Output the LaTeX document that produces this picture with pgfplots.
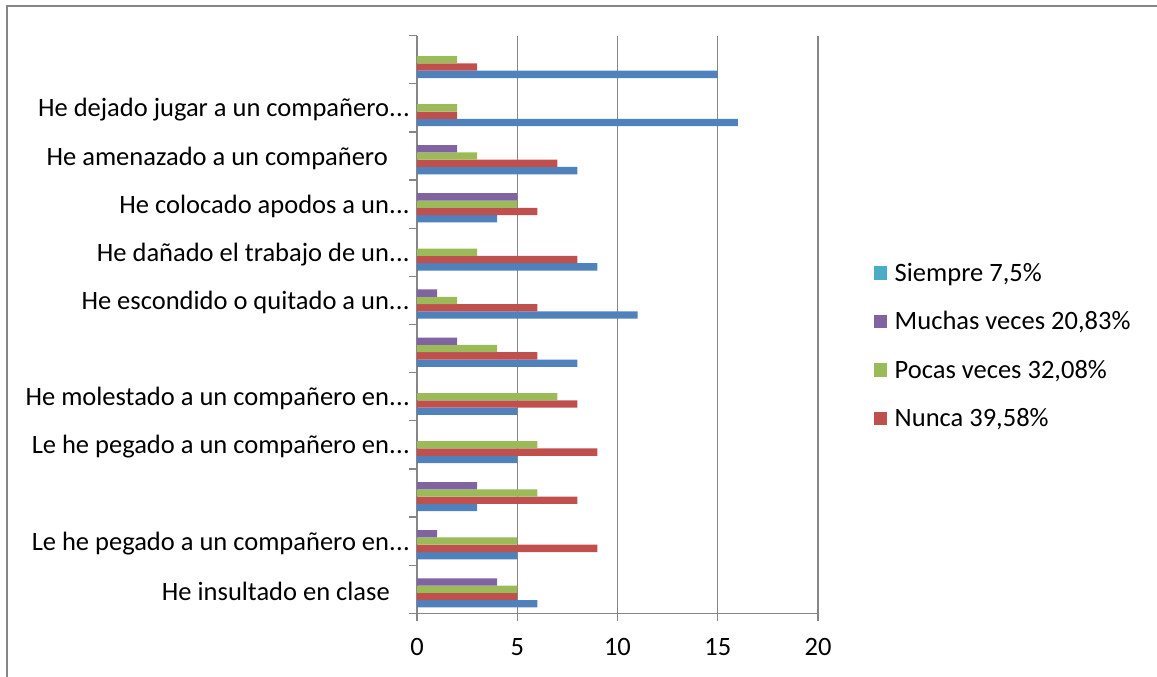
\documentclass[border=0pt]{standalone}
\usepackage{fontspec}
\setmainfont{Carlito}
\usepackage{pgfplots}
\pgfplotsset{compat=1.18}
\definecolor{cBlue}{HTML}{4F81BD}
\definecolor{cRed}{HTML}{C0504D}
\definecolor{cGreen}{HTML}{9BBB59}
\definecolor{cPurple}{HTML}{8064A2}
\definecolor{cCyan}{HTML}{4BACC6}
\definecolor{cGrid}{HTML}{868686}
\newcommand{\dd}{.\kern0.3pt.\kern0.3pt.}
\newcommand{\fs}{\fontsize{26.5}{31}\selectfont}
\begin{document}
\fs
\begin{tikzpicture}
\useasboundingbox (-417pt,-63.7pt) rectangle (740pt,613.3pt);
\draw[cGrid, line width=2pt] (-410pt,-63.7pt) -- (-410pt,607.3pt) -- (740pt,607.3pt);
\begin{axis}[
  at={(0pt,0pt)}, anchor=south west,
  scale only axis, width=401pt, height=577.6pt,
  xmin=0, xmax=20, ymin=-0.5, ymax=11.5,
  xbar, bar width=7.3pt,
  axis x line*=bottom, axis y line*=left,
  axis line style={cGrid, line width=1.3pt},
  xmajorgrids, grid style={cGrid, line width=1.3pt},
  tick align=outside, major tick length=8pt,
  tick style={cGrid, line width=1.3pt},
  xtick={0,5,10,15,20},
  ytick={-0.5,0.5,1.5,2.5,3.5,4.5,5.5,6.5,7.5,8.5,9.5,10.5,11.5},
  y tick label as interval,
  yticklabels={{He insultado en clase\hspace*{20pt}}, {Le he pegado a un compañero en\dd}, {}, {Le he pegado a un compañero en\dd}, {He molestado a un compañero en\dd}, {}, {He escondido o quitado a un\dd}, {He dañado el trabajo de un\dd}, {He colocado apodos a un\dd}, {He amenazado a un compañero\hspace*{22pt}}, {He dejado jugar a un compañero\dd}, {}},
  /pgf/number format/assume math mode=true,
  xticklabel style={font=\fs, yshift=-8pt},
  yticklabel style={font=\fs, inner sep=0pt, xshift=1pt, yshift=-2pt},
  legend image code/.code={\fill[#1] (0pt,1.7pt) rectangle (13.4pt,15.1pt); \path (21pt,8pt);},
  reverse legend,
  legend style={draw=none, fill=none, at={(1.1385,0.459)}, anchor=west,
    inner sep=0pt, row sep=24.5pt,
    font=\fs,
    nodes={inner sep=0pt, text height=18pt, text depth=6pt, anchor=base west}},
]
\addplot[fill=cBlue, draw=none, bar shift=-14.6pt, forget plot] coordinates {
(6,0) (5,1) (3,2) (5,3) (5,4) (8,5) (11,6) (9,7) (4,8) (8,9) (16,10) (15,11)};
\addplot[fill=cRed, draw=none, bar shift=-7.3pt] coordinates {
(5,0) (9,1) (8,2) (9,3) (8,4) (6,5) (6,6) (8,7) (6,8) (7,9) (2,10) (3,11)};
\addlegendentry{Nunca 39,58\%}
\addplot[fill=cGreen, draw=none, bar shift=0pt] coordinates {
(5,0) (5,1) (6,2) (6,3) (7,4) (4,5) (2,6) (3,7) (5,8) (3,9) (2,10) (2,11)};
\addlegendentry{Pocas veces 32,08\%}
\addplot[fill=cPurple, draw=none, bar shift=7.3pt] coordinates {
(4,0) (1,1) (3,2) (0,3) (0,4) (2,5) (1,6) (0,7) (5,8) (2,9) (0,10) (0,11)};
\addlegendentry{Muchas veces 20,83\%}
\addplot[fill=cCyan, draw=none, bar shift=14.6pt] coordinates {
(0,0) (0,1) (0,2) (0,3) (0,4) (0,5) (0,6) (0,7) (0,8) (0,9) (0,10) (0,11)};
\addlegendentry{Siempre 7,5\%}
\end{axis}
\end{tikzpicture}
\end{document}
